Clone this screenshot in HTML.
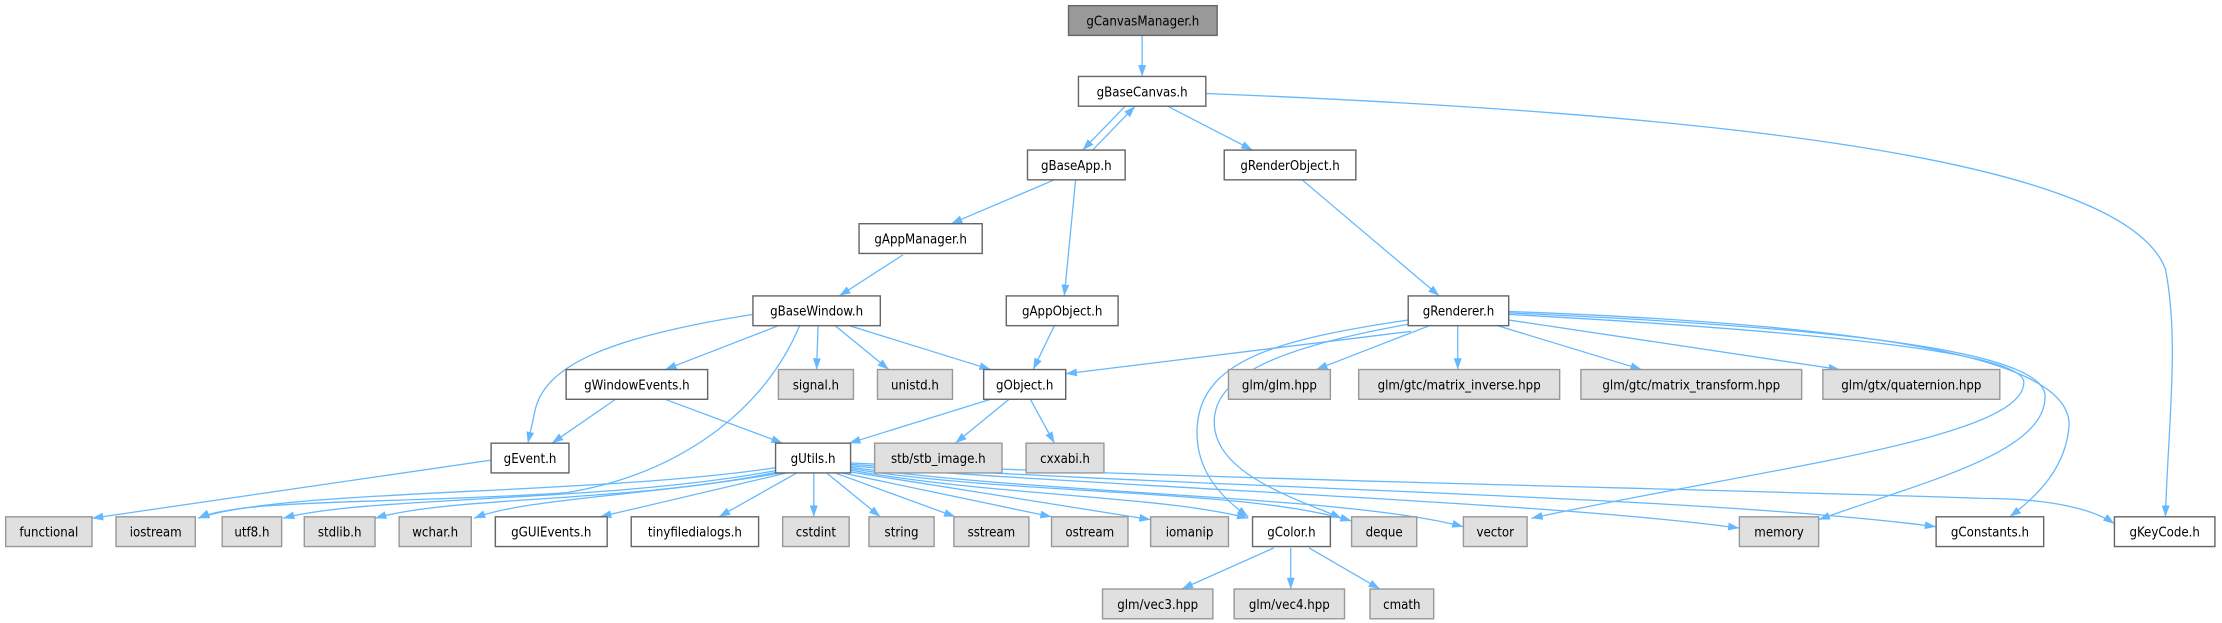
<!DOCTYPE html>
<html><head><meta charset="utf-8"><style>
html,body{margin:0;padding:0;background:#fff;width:2222px;height:623px;overflow:hidden}
svg{display:block}
text{font-family:"DejaVu Sans Condensed","DejaVu Sans","Liberation Sans",sans-serif;font-size:9.3px;text-anchor:middle;fill:#000}
.w{fill:#fff;stroke:#666;stroke-width:1}
.g{fill:#e0e0e0;stroke:#999;stroke-width:1}
.r{fill:#999;stroke:#666;stroke-width:1}
.e{fill:none;stroke:#63b8ff;stroke-width:0.9;marker-end:url(#a)}
</style></head><body>
<svg width="2222" height="623" viewBox="0 0 1570 440" preserveAspectRatio="none">
<defs><marker id="a" viewBox="0 0 10 7" refX="10" refY="3.5" markerWidth="8" markerHeight="6" markerUnits="userSpaceOnUse" orient="auto"><path d="M0,0L10,3.5L0,7z" fill="#63b8ff"/></marker></defs>
<g>
<path class="e" d="M807,25L807,54"/>
<path class="e" d="M795,75L765,106"/>
<path class="e" d="M772,106L802,75"/>
<path class="e" d="M825,75L885,106"/>
<path class="e" d="M852,66C1200,80 1500,110 1530,190 C1540,240 1532,300 1530,365"/>
<path class="e" d="M745,127L672,158"/>
<path class="e" d="M760,127L752,209"/>
<path class="e" d="M920,127L1017,209"/>
<path class="e" d="M638,180L593,209"/>
<path class="e" d="M550,230L470,261"/>
<path class="e" d="M578,230L577,261"/>
<path class="e" d="M590,230L628,261"/>
<path class="e" d="M600,230L700,261"/>
<path class="e" d="M532,222C430,238 385,258 378,290 L373,313"/>
<path class="e" d="M565,230C540,290 480,335 400,348 C280,356 170,352 140,366"/>
<path class="e" d="M745,230L730,261"/>
<path class="e" d="M997,234L753,264"/>
<path class="e" d="M1010,230L930,261"/>
<path class="e" d="M1030,230L1030,261"/>
<path class="e" d="M1058,230L1160,261"/>
<path class="e" d="M1066,226L1300,261"/>
<path class="e" d="M995,226C900,240 850,255 846,300 C843,335 868,355 882,365"/>
<path class="e" d="M995,229C905,245 856,265 858,300 C860,335 915,352 948,366"/>
<path class="e" d="M1066,222C1300,235 1430,250 1430,270 C1430,310 1250,330 1082,366"/>
<path class="e" d="M1066,221C1320,232 1445,250 1445,280 C1445,320 1360,340 1285,367"/>
<path class="e" d="M1066,220C1340,230 1462,255 1462,300 C1460,330 1440,350 1420,365"/>
<path class="e" d="M435,282L390,313"/>
<path class="e" d="M470,282L553,313"/>
<path class="e" d="M700,282L600,313"/>
<path class="e" d="M713,282L675,313"/>
<path class="e" d="M728,282L745,313"/>
<path class="e" d="M347,325L65,366"/>
<path class="e" d="M550,330C420,350 200,345 140,366"/>
<path class="e" d="M550,332C430,355 260,350 200,366"/>
<path class="e" d="M551,333C450,355 320,350 265,366"/>
<path class="e" d="M552,334C460,350 370,352 335,366"/>
<path class="e" d="M556,334L424,365"/>
<path class="e" d="M563,334L508,365"/>
<path class="e" d="M575,334L575,365"/>
<path class="e" d="M584,334L622,365"/>
<path class="e" d="M590,334L675,365"/>
<path class="e" d="M595,334L743,365"/>
<path class="e" d="M599,333L813,367"/>
<path class="e" d="M601,332C700,350 820,350 882,366"/>
<path class="e" d="M601,331C720,350 880,345 955,368"/>
<path class="e" d="M601,330C750,350 950,350 1034,372"/>
<path class="e" d="M601,329C800,345 1100,355 1229,373"/>
<path class="e" d="M601,328C850,345 1200,350 1368,372"/>
<path class="e" d="M601,327C900,340 1200,345 1400,352 C1450,352 1480,360 1494,370"/>
<path class="e" d="M900,387L835,416"/>
<path class="e" d="M912,387L912,416"/>
<path class="e" d="M925,387L975,416"/>
</g>
<g>
<rect class="r" x="755" y="4" width="105" height="21"/><text x="807.5" y="18">gCanvasManager.h</text>
<rect class="w" x="762" y="54" width="90" height="21"/><text x="807" y="68">gBaseCanvas.h</text>
<rect class="w" x="726" y="106" width="69" height="21"/><text x="760.5" y="120">gBaseApp.h</text>
<rect class="w" x="865" y="106" width="93" height="21"/><text x="911.5" y="120">gRenderObject.h</text>
<rect class="w" x="607" y="158" width="87" height="21"/><text x="650.5" y="172">gAppManager.h</text>
<rect class="w" x="532" y="209" width="90" height="21"/><text x="577" y="223">gBaseWindow.h</text>
<rect class="w" x="711" y="209" width="79" height="21"/><text x="750.5" y="223">gAppObject.h</text>
<rect class="w" x="995" y="209" width="71" height="21"/><text x="1030.5" y="223">gRenderer.h</text>
<rect class="w" x="400" y="261" width="100" height="21"/><text x="450" y="275">gWindowEvents.h</text>
<rect class="g" x="550" y="261" width="53" height="21"/><text x="576.5" y="275">signal.h</text>
<rect class="g" x="620" y="261" width="53" height="21"/><text x="646.5" y="275">unistd.h</text>
<rect class="w" x="695" y="261" width="58" height="21"/><text x="724" y="275">gObject.h</text>
<rect class="g" x="868" y="261" width="72" height="21"/><text x="904" y="275">glm/glm.hpp</text>
<rect class="g" x="960" y="261" width="142" height="21"/><text x="1031" y="275">glm/gtc/matrix_inverse.hpp</text>
<rect class="g" x="1117" y="261" width="156" height="21"/><text x="1195" y="275">glm/gtc/matrix_transform.hpp</text>
<rect class="g" x="1288" y="261" width="125" height="21"/><text x="1350.5" y="275">glm/gtx/quaternion.hpp</text>
<rect class="w" x="347" y="313" width="55" height="21"/><text x="374.5" y="327">gEvent.h</text>
<rect class="w" x="548" y="313" width="53" height="21"/><text x="574.5" y="327">gUtils.h</text>
<rect class="g" x="618" y="313" width="90" height="21"/><text x="663" y="327">stb/stb_image.h</text>
<rect class="g" x="725" y="313" width="55" height="21"/><text x="752.5" y="327">cxxabi.h</text>
<rect class="g" x="4" y="365" width="61" height="21"/><text x="34.5" y="379">functional</text>
<rect class="g" x="82" y="365" width="56" height="21"/><text x="110" y="379">iostream</text>
<rect class="g" x="157" y="365" width="42" height="21"/><text x="178" y="379">utf8.h</text>
<rect class="g" x="215" y="365" width="50" height="21"/><text x="240" y="379">stdlib.h</text>
<rect class="g" x="282" y="365" width="51" height="21"/><text x="307.5" y="379">wchar.h</text>
<rect class="w" x="350" y="365" width="79" height="21"/><text x="389.5" y="379">gGUIEvents.h</text>
<rect class="w" x="446" y="365" width="90" height="21"/><text x="491" y="379">tinyfiledialogs.h</text>
<rect class="g" x="553" y="365" width="47" height="21"/><text x="576.5" y="379">cstdint</text>
<rect class="g" x="614" y="365" width="46" height="21"/><text x="637" y="379">string</text>
<rect class="g" x="674" y="365" width="53" height="21"/><text x="700.5" y="379">sstream</text>
<rect class="g" x="743" y="365" width="54" height="21"/><text x="770" y="379">ostream</text>
<rect class="g" x="813" y="365" width="55" height="21"/><text x="840.5" y="379">iomanip</text>
<rect class="w" x="885" y="365" width="55" height="21"/><text x="912.5" y="379">gColor.h</text>
<rect class="g" x="955" y="365" width="46" height="21"/><text x="978" y="379">deque</text>
<rect class="g" x="1034" y="365" width="45" height="21"/><text x="1056.5" y="379">vector</text>
<rect class="g" x="1229" y="365" width="56" height="21"/><text x="1257" y="379">memory</text>
<rect class="w" x="1368" y="365" width="76" height="21"/><text x="1406" y="379">gConstants.h</text>
<rect class="w" x="1494" y="365" width="71" height="21"/><text x="1529.5" y="379">gKeyCode.h</text>
<rect class="g" x="779" y="416" width="78" height="21"/><text x="818" y="430">glm/vec3.hpp</text>
<rect class="g" x="872" y="416" width="78" height="21"/><text x="911" y="430">glm/vec4.hpp</text>
<rect class="g" x="968" y="416" width="45" height="21"/><text x="990.5" y="430">cmath</text>
</g>
</svg>
</body></html>
